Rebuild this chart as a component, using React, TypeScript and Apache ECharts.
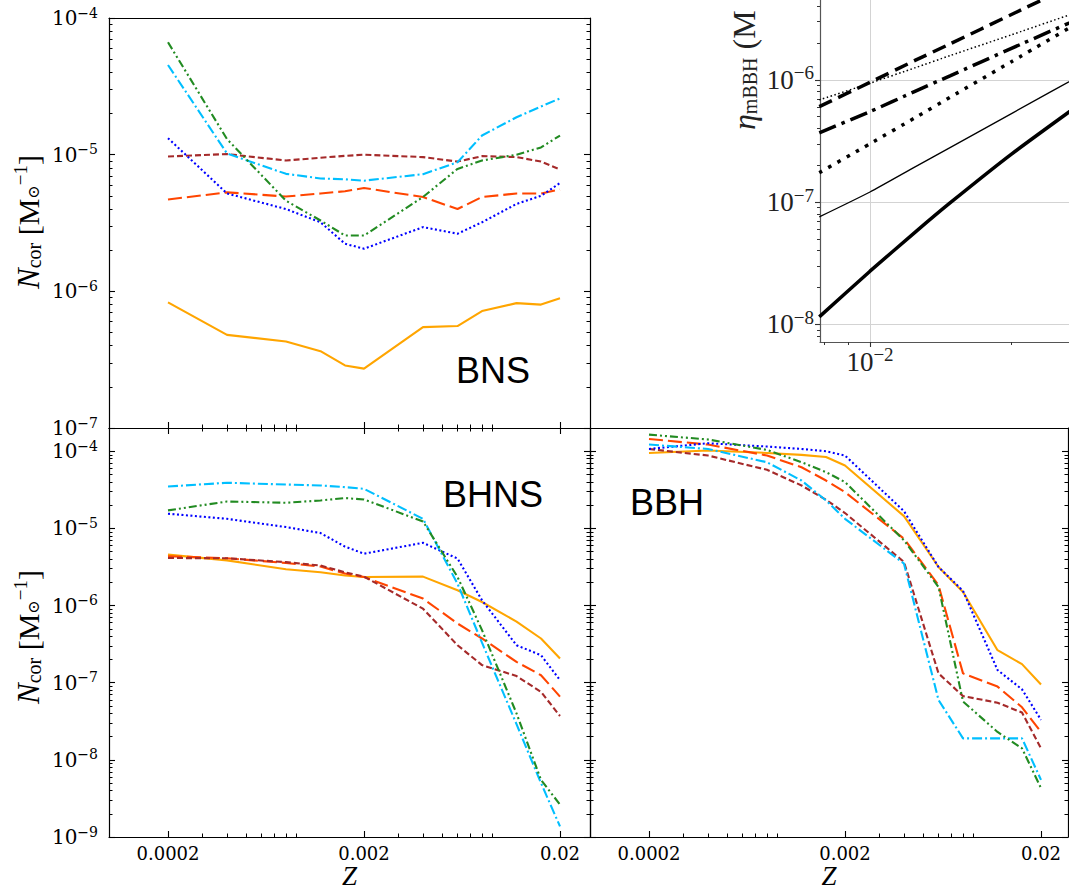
import React, { useEffect, useRef } from 'react';
import * as echarts from 'echarts';

// ---------------- data ----------------
const Z = [0.0002, 0.0004, 0.0008, 0.0012, 0.0016, 0.002, 0.004, 0.006, 0.008, 0.012, 0.016, 0.02];

// BNS
const BNS_ORANGE = [8.3e-7, 4.8e-7, 4.3e-7, 3.65e-7, 2.87e-7, 2.72e-7, 5.47e-7, 5.57e-7, 7.17e-7, 8.2e-7, 8.0e-7, 8.9e-7];
const BNS_ORANGERED = [4.7e-6, 5.3e-6, 4.94e-6, 5.2e-6, 5.4e-6, 5.7e-6, 4.9e-6, 4.0e-6, 4.9e-6, 5.2e-6, 5.2e-6, 5.56e-6];
const BNS_BROWN = [9.7e-6, 1.01e-5, 9.06e-6, 9.5e-6, 9.8e-6, 1.0e-5, 9.6e-6, 8.9e-6, 9.75e-6, 9.6e-6, 8.9e-6, 7.8e-6];
const BNS_BLUE = [1.32e-5, 5.2e-6, 4.0e-6, 3.2e-6, 2.23e-6, 2.05e-6, 2.95e-6, 2.64e-6, 3.2e-6, 4.36e-6, 5.0e-6, 6.2e-6];
const BNS_CYAN = [4.53e-5, 1.02e-5, 7.24e-6, 6.7e-6, 6.6e-6, 6.45e-6, 7.2e-6, 8.8e-6, 1.38e-5, 1.88e-5, 2.25e-5, 2.58e-5];
const BNS_GREEN = [6.64e-5, 1.3e-5, 4.6e-6, 3.3e-6, 2.56e-6, 2.56e-6, 4.9e-6, 7.87e-6, 9.06e-6, 1.0e-5, 1.13e-5, 1.38e-5];

// BHNS
const BHNS_ORANGE = [4.57e-6, 3.85e-6, 2.95e-6, 2.7e-6, 2.45e-6, 2.34e-6, 2.37e-6, 1.58e-6, 1.11e-6, 6.2e-7, 3.74e-7, 2.06e-7];
const BHNS_ORANGERED = [4.35e-6, 4.1e-6, 3.56e-6, 3.2e-6, 2.6e-6, 2.34e-6, 1.23e-6, 5.85e-7, 3.74e-7, 1.86e-7, 1.25e-7, 6.6e-8];
const BHNS_BROWN = [4.13e-6, 4.1e-6, 3.65e-6, 3.3e-6, 2.7e-6, 2.37e-6, 9.1e-7, 3.06e-7, 1.69e-7, 1.22e-7, 7.6e-8, 3.7e-8];
const BHNS_BLUE = [1.55e-5, 1.33e-5, 1.04e-5, 8.7e-6, 5.8e-6, 4.7e-6, 6.5e-6, 4.06e-6, 1.17e-6, 3.06e-7, 2.27e-7, 1.08e-7];
const BHNS_CYAN = [3.49e-5, 3.9e-5, 3.7e-5, 3.6e-5, 3.42e-5, 3.26e-5, 1.33e-5, 1.92e-6, 3.3e-7, 2.9e-8, 5.0e-9, 1.37e-9];
const BHNS_GREEN = [1.71e-5, 2.23e-5, 2.15e-5, 2.3e-5, 2.47e-5, 2.37e-5, 1.23e-5, 2.35e-6, 4.8e-7, 4.0e-8, 5.5e-9, 2.63e-9];

// BBH
const BBH_ORANGE = [9.5e-5, 1.02e-4, 9.5e-5, 8.96e-5, 8.4e-5, 6.53e-5, 1.44e-5, 3.16e-6, 1.5e-6, 2.64e-7, 1.74e-7, 9.5e-8];
const BBH_ORANGERED = [1.44e-4, 1.22e-4, 8.8e-5, 6.2e-5, 4.17e-5, 2.95e-5, 7.35e-6, 1.83e-6, 1.32e-7, 8.9e-8, 4.8e-8, 2.3e-8];
const BBH_BROWN = [1.07e-4, 8.8e-5, 5.74e-5, 3.6e-5, 2.35e-5, 1.58e-5, 3.67e-6, 1.32e-7, 6.7e-8, 5.5e-8, 4.1e-8, 1.41e-8];
const BBH_BLUE = [1.07e-4, 1.27e-4, 1.15e-4, 1.07e-4, 1.0e-4, 8.8e-5, 1.67e-5, 3.16e-6, 1.55e-6, 1.46e-7, 8.2e-8, 3.3e-8];
const BBH_CYAN = [1.22e-4, 1.07e-4, 7.2e-5, 4.17e-5, 2.3e-5, 1.33e-5, 3.49e-6, 5.97e-8, 1.9e-8, 1.9e-8, 1.9e-8, 5.5e-9];
const BBH_GREEN = [1.64e-4, 1.42e-4, 1.04e-4, 7.2e-5, 5.36e-5, 3.98e-5, 7.0e-6, 1.74e-6, 5.7e-8, 2.3e-8, 1.41e-8, 4.3e-9];

// inset (eta_mBBH vs Z)
const INSET_Z = [0.0078, 0.01, 0.0125, 0.0148, 0.02, 0.03];
const ETA_THICK_SOLID = [1.15e-8, 2.72e-8, 5.71e-8, 9.84e-8, 2.47e-7, 7.7e-7];
const ETA_THIN_SOLID = [7.57e-8, 1.21e-7, 1.95e-7, 2.79e-7, 5.3e-7, 1.26e-6];
const ETA_THICK_DOTTED = [1.74e-7, 3.0e-7, 4.93e-7, 7.2e-7, 1.41e-6, 3.5e-6];
const ETA_DASHDOT = [3.69e-7, 5.5e-7, 8.1e-7, 1.08e-6, 1.81e-6, 3.6e-6];
const ETA_DASHED = [6.05e-7, 9.55e-7, 1.45e-6, 1.97e-6, 3.43e-6, 7.2e-6];
const ETA_THIN_DOTTED = [6.86e-7, 9.4e-7, 1.26e-6, 1.58e-6, 2.34e-6, 4.0e-6];

// ticks
const X_MAJOR = [0.0002, 0.002, 0.02];
const X_MAJOR_LABELS = ['0.0002', '0.002', '0.02'];
const X_MINOR_MANTISSA = [3, 4, 5, 6, 7, 8, 9];
const X_MINOR_DECADES = [-4, -3];
const Y_MINOR_MANTISSA = [2, 3, 4, 5, 6, 7, 8, 9];
const BNS_Y_EXP = [-7, -6, -5, -4];
const LOWER_Y_EXP = [-9, -8, -7, -6, -5, -4];
const INSET_Y_EXP = [-8, -7, -6];
const INSET_X_EXP = [-2];
const INSET_X_MINOR = [0.008, 0.009, 0.02, 0.03];

// ---------------- helpers ----------------
const L = (v: number) => Math.log10(v);
const pts = (xs: number[], ys: number[]) => xs.map((x, i) => [L(x), L(ys[i])]);

const xMinorLog: number[] = [];
X_MINOR_DECADES.forEach((d) => X_MINOR_MANTISSA.forEach((m) => xMinorLog.push(L(m * Math.pow(10, d)))));
const yMinorLog = (lo: number, hi: number) => {
  const out: number[] = [];
  for (let d = lo; d <= hi; d++) Y_MINOR_MANTISSA.forEach((m) => out.push(d + L(m)));
  return out;
};
const xMajorLog = X_MAJOR.map(L);

const expLabel = (v: number) => {
  const e = Math.round(v);
  return `{b|10}{s|${e < 0 ? '\u2212' : ''}${Math.abs(e)}}`;
};

const STYLE: Record<string, any> = {
  orange: { color: '#FFA500', type: 'solid', width: 2.1 },
  orangered: { color: '#FF4500', type: [14, 5], width: 2.1 },
  brown: { color: '#A52A2A', type: [6, 3], width: 2.1 },
  blue: { color: '#0000FF', type: [2, 2.5], width: 2.1 },
  cyan: { color: '#00BFFF', type: [10, 3, 2, 3], width: 2.1 },
  green: { color: '#228B22', type: [8, 3, 2, 3, 2, 3], width: 2.1 },
};

const INSET_STYLE: Record<string, any> = {
  thickSolid: { color: '#000', type: 'solid', width: 3.5 },
  thinSolid: { color: '#000', type: 'solid', width: 1.3 },
  thickDotted: { color: '#000', type: [3.5, 7], width: 3.5 },
  dashDot: { color: '#000', type: [18, 6, 3.5, 6], width: 3.5 },
  dashed: { color: '#000', type: [14, 7], width: 3.5 },
  thinDotted: { color: '#000', type: [1.5, 2.5], width: 1.5 },
};

function buildOption() {
  const xAxis: any[] = [];
  const yAxis: any[] = [];

  const mainYRich = {
    b: { fontFamily: 'DejaVu Serif', fontSize: 20, color: '#000', verticalAlign: 'middle' },
    s: { fontFamily: 'DejaVu Serif', fontSize: 14, color: '#000', padding: [0, 0, 11, 0], verticalAlign: 'middle' },
  };
  const insetRich = {
    b: { fontFamily: 'Liberation Serif', fontSize: 27, color: '#222', verticalAlign: 'middle' },
    s: { fontFamily: 'Liberation Serif', fontSize: 19, color: '#222', padding: [0, 0, 14, 0], verticalAlign: 'middle' },
  };

  function addPair(list: any[], o: any): number {
    const lineColor = o.lineColor || '#000';
    const tickColor = o.tickColor || '#000';
    const major: any = {
      type: 'value',
      gridIndex: o.grid,
      position: o.position,
      min: o.min,
      max: o.max,
      axisLine: { show: o.line !== false, onZero: false, lineStyle: { color: lineColor, width: 1.2 } },
      axisTick: o.majors
        ? { show: true, inside: o.inside, length: o.majorLen || 6, customValues: o.majors, lineStyle: { color: tickColor, width: 1.1 } }
        : { show: false },
      axisLabel: o.label ? Object.assign({ show: true, customValues: o.majors }, o.label) : { show: false },
      splitLine: o.split
        ? { show: true, lineStyle: { color: '#d3d3d3', width: 1 } }
        : { show: false },
      minorTick: { show: false },
    };
    if (o.name) {
      major.name = o.name;
      major.nameLocation = 'middle';
      major.nameGap = o.nameGap;
      major.nameTextStyle = o.nameTextStyle;
    }
    list.push(major);
    const idx = list.length - 1;
    if (o.minors) {
      list.push({
        type: 'value',
        gridIndex: o.grid,
        position: o.position,
        min: o.min,
        max: o.max,
        axisLine: { show: false, onZero: false },
        axisTick: { show: true, inside: o.inside, length: o.minorLen || 3.5, customValues: o.minors, lineStyle: { color: tickColor, width: 1 } },
        axisLabel: { show: false },
        splitLine: { show: false },
      });
    }
    return idx;
  }

  const XMIN = -4;
  const XMAX_L = -4 + 481 / 196;
  const XMAX_R = -4 + 478 / 196;
  const LOW_YMAX = L(2e-4);

  const xLabelStyle = {
    fontFamily: 'DejaVu Serif',
    fontSize: 18,
    color: '#000',
    margin: 7,
    formatter: (v: number) => {
      const i = xMajorLog.findIndex((t) => Math.abs(t - v) < 1e-6);
      return i >= 0 ? X_MAJOR_LABELS[i] : '';
    },
  };
  const zName = {
    name: 'Z',
    nameGap: 19,
    nameTextStyle: { fontFamily: 'Liberation Serif', fontStyle: 'italic', fontSize: 27, lineHeight: 27, color: '#000' },
  };

  // ---- grid 0: BNS ----
  const g0x = addPair(xAxis, { grid: 0, position: 'bottom', min: XMIN, max: XMAX_L, majors: xMajorLog, minors: xMinorLog, inside: true });
  addPair(xAxis, { grid: 0, position: 'top', min: XMIN, max: XMAX_L });
  const g0y = addPair(yAxis, {
    grid: 0, position: 'left', min: -7, max: -4, majors: BNS_Y_EXP, minors: yMinorLog(-8, -5), inside: true,
    label: { formatter: expLabel, rich: mainYRich, margin: 11 },
  });
  addPair(yAxis, { grid: 0, position: 'right', min: -7, max: -4, majors: BNS_Y_EXP, minors: yMinorLog(-8, -5), inside: true });

  // ---- grid 1: BHNS ----
  const g1x = addPair(xAxis, {
    grid: 1, position: 'bottom', min: XMIN, max: XMAX_L, majors: xMajorLog, minors: xMinorLog, inside: true,
    label: xLabelStyle, ...zName,
  });
  addPair(xAxis, { grid: 1, position: 'top', min: XMIN, max: XMAX_L, majors: xMajorLog, minors: xMinorLog, inside: true });
  const g1y = addPair(yAxis, {
    grid: 1, position: 'left', min: -9, max: LOW_YMAX, majors: LOWER_Y_EXP, minors: yMinorLog(-9, -4), inside: true,
    label: { formatter: expLabel, rich: mainYRich, margin: 11 },
  });
  addPair(yAxis, { grid: 1, position: 'right', min: -9, max: LOW_YMAX, majors: LOWER_Y_EXP, minors: yMinorLog(-9, -4), inside: true });

  // ---- grid 2: BBH ----
  const g2x = addPair(xAxis, {
    grid: 2, position: 'bottom', min: XMIN, max: XMAX_R, majors: xMajorLog, minors: xMinorLog, inside: true,
    label: xLabelStyle, ...zName,
  });
  addPair(xAxis, { grid: 2, position: 'top', min: XMIN, max: XMAX_R });
  const g2y = addPair(yAxis, { grid: 2, position: 'left', min: -9, max: LOW_YMAX, majors: LOWER_Y_EXP, minors: yMinorLog(-9, -4), inside: true });
  addPair(yAxis, { grid: 2, position: 'right', min: -9, max: LOW_YMAX, majors: LOWER_Y_EXP, minors: yMinorLog(-9, -4), inside: true });

  // ---- grid 3: inset ----
  const IX_MIN = -2 - 50 / 470;
  const IX_MAX = IX_MIN + 260 / 470;
  const IY_MIN = -8 - 17.7 / 122.2;
  const IY_MAX = IY_MIN + 342 / 122.2;
  const g3x = addPair(xAxis, {
    grid: 3, position: 'bottom', min: IX_MIN, max: IX_MAX, majors: INSET_X_EXP, minors: INSET_X_MINOR.map(L),
    inside: false, majorLen: 5, minorLen: 3, lineColor: '#555', tickColor: '#333', split: true,
    label: { formatter: expLabel, rich: insetRich, margin: 3 },
  });
  const g3y = addPair(yAxis, {
    grid: 3, position: 'left', min: IY_MIN, max: IY_MAX, majors: INSET_Y_EXP, minors: yMinorLog(-9, -6),
    inside: false, majorLen: 5, minorLen: 3, lineColor: '#555', tickColor: '#333', split: true,
    label: { formatter: expLabel, rich: insetRich, margin: 6 },
  });

  const series: any[] = [];
  const addLines = (xi: number, yi: number, sets: [string, number[], string][]) => {
    sets.forEach(([name, vals, style]) => {
      series.push({
        type: 'line',
        name,
        xAxisIndex: xi,
        yAxisIndex: yi,
        data: pts(Z, vals),
        showSymbol: false,
        symbol: 'none',
        lineStyle: STYLE[style],
        z: 3,
      });
    });
  };
  addLines(g0x, g0y, [
    ['BNS orange', BNS_ORANGE, 'orange'],
    ['BNS orangered', BNS_ORANGERED, 'orangered'],
    ['BNS brown', BNS_BROWN, 'brown'],
    ['BNS blue', BNS_BLUE, 'blue'],
    ['BNS cyan', BNS_CYAN, 'cyan'],
    ['BNS green', BNS_GREEN, 'green'],
  ]);
  addLines(g1x, g1y, [
    ['BHNS orange', BHNS_ORANGE, 'orange'],
    ['BHNS orangered', BHNS_ORANGERED, 'orangered'],
    ['BHNS brown', BHNS_BROWN, 'brown'],
    ['BHNS blue', BHNS_BLUE, 'blue'],
    ['BHNS cyan', BHNS_CYAN, 'cyan'],
    ['BHNS green', BHNS_GREEN, 'green'],
  ]);
  addLines(g2x, g2y, [
    ['BBH orange', BBH_ORANGE, 'orange'],
    ['BBH orangered', BBH_ORANGERED, 'orangered'],
    ['BBH brown', BBH_BROWN, 'brown'],
    ['BBH blue', BBH_BLUE, 'blue'],
    ['BBH cyan', BBH_CYAN, 'cyan'],
    ['BBH green', BBH_GREEN, 'green'],
  ]);
  const insetSets: [string, number[], string][] = [
    ['eta thick solid', ETA_THICK_SOLID, 'thickSolid'],
    ['eta thin solid', ETA_THIN_SOLID, 'thinSolid'],
    ['eta thick dotted', ETA_THICK_DOTTED, 'thickDotted'],
    ['eta dash-dot', ETA_DASHDOT, 'dashDot'],
    ['eta dashed', ETA_DASHED, 'dashed'],
    ['eta thin dotted', ETA_THIN_DOTTED, 'thinDotted'],
  ];
  insetSets.forEach(([name, vals, style]) => {
    series.push({
      type: 'line',
      name,
      xAxisIndex: g3x,
      yAxisIndex: g3y,
      data: pts(INSET_Z, vals),
      showSymbol: false,
      symbol: 'none',
      smooth: 0.2,
      lineStyle: INSET_STYLE[style],
      z: 3,
    });
  });

  const nLabelRich = {
    n: { fontFamily: 'Liberation Serif', fontStyle: 'italic', fontSize: 31, fill: '#000' },
    c: { fontFamily: 'Liberation Serif', fontSize: 20, fill: '#000', padding: [11, 0, 0, 0] },
    r: { fontFamily: 'Liberation Serif', fontSize: 30, fill: '#000' },
    o: { fontFamily: 'DejaVu Serif', fontSize: 16, fill: '#000', padding: [11, 0, 0, 0] },
    p: { fontFamily: 'Liberation Serif', fontSize: 19, fill: '#000', padding: [0, 0, 15, 0] },
  };
  const nLabel = '{n|N}{c|cor}{r| [M}{o|\u2299}{p|\u22121}{r|]}';
  const etaRich = {
    e: { fontFamily: 'Liberation Serif', fontStyle: 'italic', fontSize: 32, fill: '#222' },
    m: { fontFamily: 'Liberation Serif', fontSize: 20, fill: '#222', padding: [12, 0, 0, 0] },
    r: { fontFamily: 'Liberation Serif', fontSize: 32, fill: '#222' },
  };
  const sansBig = { fontFamily: 'Liberation Sans', fontSize: 36, fill: '#000' };

  const graphic: any[] = [
    { type: 'text', x: 493, y: 370, z: 10, style: { text: 'BNS', ...sansBig, align: 'center', verticalAlign: 'middle' } },
    { type: 'text', x: 493, y: 494, z: 10, style: { text: 'BHNS', ...sansBig, align: 'center', verticalAlign: 'middle' } },
    { type: 'text', x: 667, y: 502, z: 10, style: { text: 'BBH', ...sansBig, align: 'center', verticalAlign: 'middle' } },
    { type: 'text', x: 28, y: 222, rotation: Math.PI / 2, z: 10, style: { text: nLabel, rich: nLabelRich, align: 'center', verticalAlign: 'middle' } },
    { type: 'text', x: 28, y: 637, rotation: Math.PI / 2, z: 10, style: { text: nLabel, rich: nLabelRich, align: 'center', verticalAlign: 'middle' } },
    { type: 'text', x: 744, y: 130, rotation: Math.PI / 2, z: 10, style: { text: '{e|\u03b7}{m|mBBH}{r| (M}', rich: etaRich, align: 'left', verticalAlign: 'middle' } },
  ];

  return {
    animation: false,
    backgroundColor: '#fff',
    grid: [
      { left: 109, top: 18, width: 481, height: 410, containLabel: false, outerBoundsMode: 'none' },
      { left: 109, top: 428, width: 481, height: 409, containLabel: false, outerBoundsMode: 'none' },
      { left: 590, top: 428, width: 478, height: 409, containLabel: false, outerBoundsMode: 'none' },
      { left: 820, top: 0, width: 260, height: 342, containLabel: false, outerBoundsMode: 'none' },
    ],
    xAxis,
    yAxis,
    series,
    graphic,
  };
}

export default function App() {
  const ref = useRef<HTMLDivElement>(null);
  useEffect(() => {
    const chart = echarts.init(ref.current as HTMLDivElement, null, { renderer: 'svg' });
    chart.setOption(buildOption() as any);
    return () => chart.dispose();
  }, []);
  return (
    <div
      ref={ref}
      style={{ position: 'absolute', left: 0, top: 0, width: 1069, height: 890, background: '#fff' }}
    />
  );
}
